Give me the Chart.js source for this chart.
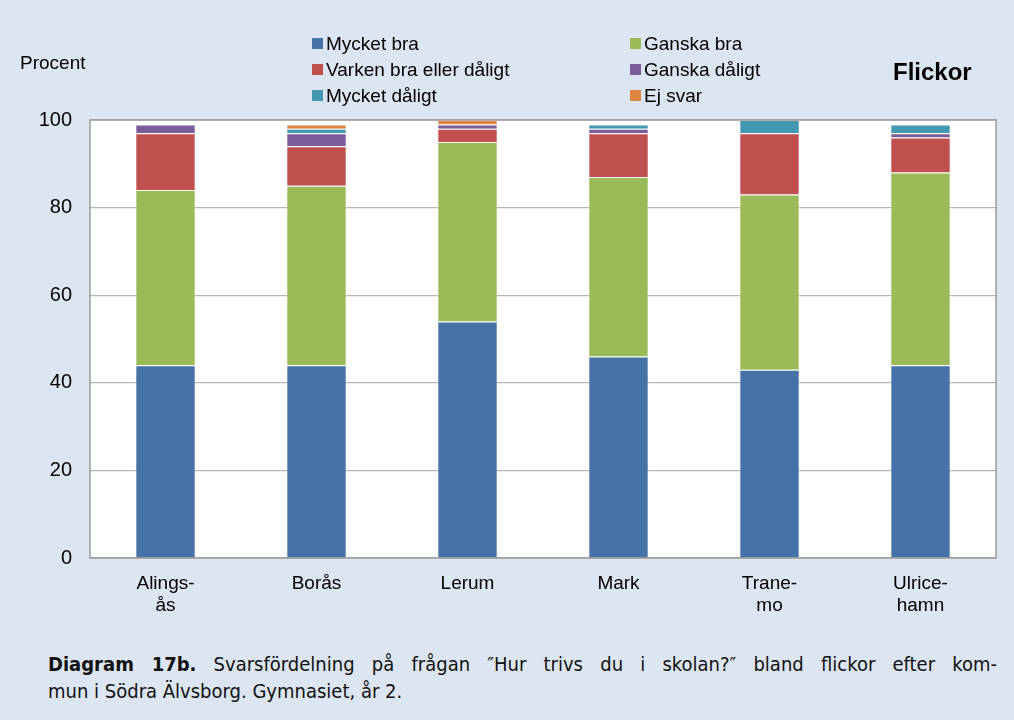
<!DOCTYPE html>
<html>
<head>
<meta charset="utf-8">
<script src="https://cdn.jsdelivr.net/npm/chart.js@4"></script>
<style>
  body { margin: 0; background: #dce6f2; font-family: "Liberation Sans", Arial, sans-serif; }
  #wrap { position: relative; width: 1014px; height: 720px; background: #dce6f2; overflow: hidden; }
  #chartBox { position: absolute; left: 0; top: 0; width: 1014px; height: 625px; }
  .lbl { position: absolute; color: #000; white-space: nowrap; }
  #legend .item { position: absolute; font-size: 19px; line-height: 22px; }
  #legend .sw { display: inline-block; width: 11px; height: 11px; margin-right: 3px; vertical-align: 1px; }
  #caption { position: absolute; left: 48px; top: 651px; width: 949px; font-size: 20px; line-height: 27px;
    font-family: "DejaVu Sans Condensed", "Liberation Sans Narrow", sans-serif; color: #111; }
  #caption .l1 { text-align: justify; text-align-last: justify; }
</style>
</head>
<body>
<div id="wrap">
  <div id="chartBox"><canvas id="chart"></canvas></div>
  <div class="lbl" style="left:20px; top:52px; font-size:19px;">Procent</div>
  <div class="lbl" style="left:893px; top:58px; font-size:24px; font-weight:bold;">Flickor</div>
  <div id="legend"></div>
  <div id="caption">
    <div class="l1"><b>Diagram 17b.</b> Svarsfördelning på frågan ″Hur trivs du i skolan?″ bland flickor efter kom-</div>
    <div>mun i Södra Älvsborg. Gymnasiet, år 2.</div>
  </div>
</div>
<script>
// kommuner (two-line labels as in the original)
const categories = [["Alings-", "ås"], ["Borås"], ["Lerum"], ["Mark"], ["Trane-", "mo"], ["Ulrice-", "hamn"]];

const seriesNames = ["Mycket bra", "Ganska bra", "Varken bra eller dåligt", "Ganska dåligt", "Mycket dåligt", "Ej svar"];
const seriesColors = ["#4672a8", "#9bbb59", "#c0504d", "#7a5c98", "#4299b0", "#e08540"];

// procent per kommun
const mycketBra   = [44, 44, 54, 46, 43, 44];
const ganskaBra   = [40, 41, 41, 41, 40, 44];
const varken      = [13, 9, 3, 10, 14, 8];
const ganskaDalig = [2, 3, 1, 1, 0, 1];
const mycketDalig = [0, 1, 0, 1, 3, 2];
const ejSvar      = [0, 1, 1, 0, 0, 0];

const yTicks = [0, 20, 40, 60, 80, 100];

const seriesValues = [mycketBra, ganskaBra, varken, ganskaDalig, mycketDalig, ejSvar];

// legend laid out in two columns, row by row
const legend = document.getElementById('legend');
seriesNames.forEach((name, i) => {
  const d = document.createElement('div');
  d.className = 'item';
  d.style.left = (i % 2 === 0 ? 312 : 630) + 'px';
  d.style.top = (33 + Math.floor(i / 2) * 26) + 'px';
  d.innerHTML = '<span class="sw" style="background:' + seriesColors[i] + '"></span>' + name;
  legend.appendChild(d);
});

const plotBorder = {
  id: 'plotBorder',
  afterDraw(chart) {
    const { ctx, chartArea: a } = chart;
    ctx.save();
    ctx.strokeStyle = '#9a9a9a';
    ctx.lineWidth = 1.5;
    ctx.strokeRect(a.left, a.top, a.right - a.left, a.bottom - a.top);
    ctx.restore();
  }
};

const plotBg = {
  id: 'plotBg',
  beforeDraw(chart) {
    const { ctx, chartArea: a } = chart;
    ctx.save();
    ctx.fillStyle = '#ffffff';
    ctx.fillRect(a.left, a.top, a.right - a.left, a.bottom - a.top);
    ctx.restore();
  }
};

new Chart(document.getElementById('chart'), {
  type: 'bar',
  data: {
    labels: categories,
    datasets: seriesNames.map((name, i) => ({
      label: name,
      data: seriesValues[i],
      backgroundColor: seriesColors[i],
      borderColor: 'rgba(255,255,255,0.55)',
      borderWidth: 1,
      barPercentage: 0.4,
      categoryPercentage: 1
    }))
  },
  options: {
    responsive: true,
    maintainAspectRatio: false,
    animation: false,
    layout: { padding: { left: 0, right: 18, top: 120, bottom: 0 } },
    plugins: {
      legend: { display: false },
      tooltip: { enabled: false }
    },
    scales: {
      x: {
        stacked: true,
        grid: { display: false },
        border: { display: false },
        ticks: { color: '#000', font: { family: 'Liberation Sans', size: 19 }, padding: 6, maxRotation: 0 },
        afterFit(scale) { scale.height = 67; }
      },
      y: {
        stacked: true,
        min: 0,
        max: 100,
        afterBuildTicks(scale) { scale.ticks = yTicks.map(v => ({ value: v })); },
        grid: { color: '#b4b4b4', lineWidth: 1.2, drawTicks: false },
        border: { display: false },
        ticks: { color: '#000', font: { family: 'Liberation Sans', size: 20 }, padding: 18 },
        afterFit(scale) { scale.width = 90; }
      }
    }
  },
  plugins: [plotBg, plotBorder]
});
</script>
</body>
</html>
